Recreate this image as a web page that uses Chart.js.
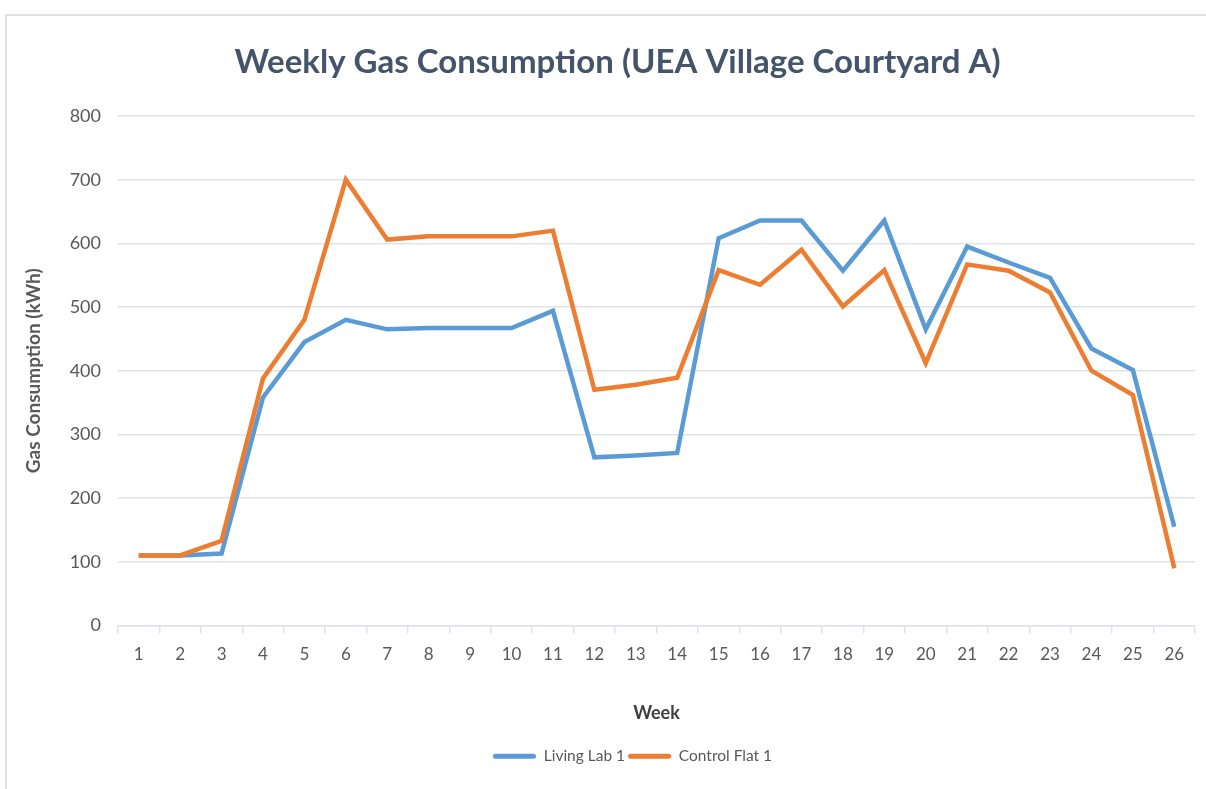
<!DOCTYPE html>
<html>
<head>
<meta charset="utf-8">
<script src="https://cdn.jsdelivr.net/npm/chart.js@4/dist/chart.umd.min.js"></script>
<style>
  html, body { margin: 0; padding: 0; background: #ffffff; }
  #frame { position: absolute; left: 5px; top: 14px; width: 1201px; height: 775px;
           border-top: 2px solid #dde1e6; border-left: 2px solid #dde1e6; box-sizing: border-box; }
  #box-chart { position: absolute; left: 0; top: 0; width: 1206px; height: 789px; }
</style>
</head>
<body>
<div id="frame"></div>
<div id="box-chart"><canvas id="LineChart1"></canvas></div>
<script>
// weeks 1..26
var semanas = ['1','2','3','4','5','6','7','8','9','10','11','12','13','14','15','16','17','18','19','20','21','22','23','24','25','26'];

// Living Lab 1 (kWh)
var livingLab = [110, 110, 113, 358, 445, 480, 465, 467, 467, 467, 494, 264, 267, 271, 608, 636, 636, 557, 636, 465, 595, 570, 546, 435, 401, 155];

// Control Flat 1 (kWh)
var controlFlat = [110, 110, 133, 388, 480, 700, 606, 611, 611, 611, 620, 370, 378, 389, 558, 535, 590, 501, 558, 412, 567, 557, 523, 400, 362, 90];

var yTicks = [0, 100, 200, 300, 400, 500, 600, 700, 800];

var corTexto = '#595959';
var corGrade = '#dfe3e8';

// legenda um pouco para a direita, como no original
var moverLegenda = {
    id: 'moverLegenda',
    afterLayout: function (chart) {
        chart.legend.left += 30;
    }
};

function showLineChart(canvasName) {
    var ctx = document.getElementById(canvasName).getContext('2d');
    return new Chart(ctx, {
        type: 'line',
        data: {
            labels: semanas,
            datasets: [{
                label: 'Living Lab 1',
                data: livingLab,
                borderColor: '#5b9bd5',
                backgroundColor: '#5b9bd5',
                borderWidth: 4.5,
                pointRadius: 0,
                tension: 0,
                order: 1
            }, {
                label: 'Control Flat 1',
                data: controlFlat,
                borderColor: '#ed7d31',
                backgroundColor: '#ed7d31',
                borderWidth: 4.5,
                pointRadius: 0,
                tension: 0,
                order: 0
            }]
        },
        plugins: [moverLegenda],
        options: {
            responsive: false,
            animation: false,
            layout: { padding: { left: 40, right: 11, top: 0, bottom: 15 } },
            plugins: {
                title: {
                    display: true,
                    text: 'Weekly Gas Consumption (UEA Village Courtyard A)',
                    color: '#44546a',
                    font: { family: 'Lato', size: 33, weight: 'bold' },
                    padding: { top: 42.2, bottom: 34.2 }
                },
                legend: {
                    position: 'bottom',
                    labels: {
                        color: corTexto,
                        font: { family: 'Lato', size: 15.5 },
                        boxWidth: 43,
                        boxHeight: 5,
                        padding: 3,
                        sort: function (a, b) { return a.datasetIndex - b.datasetIndex; },
                        generateLabels: function (chart) {
                            var itens = Chart.defaults.plugins.legend.labels.generateLabels(chart);
                            itens.forEach(function (it) {
                                it.lineWidth = 0;
                                it.fillStyle = it.strokeStyle;
                                it.borderRadius = 2.5;
                            });
                            return itens;
                        }
                    }
                },
                tooltip: { enabled: false }
            },
            scales: {
                x: {
                    offset: true,
                    grid: { drawOnChartArea: false, offset: true, tickLength: 8, color: corGrade, lineWidth: 1.5 },
                    border: { color: corGrade, width: 1.5 },
                    ticks: { color: corTexto, font: { family: 'Lato', size: 17 }, padding: 11, maxRotation: 0, autoSkip: false },
                    title: {
                        display: true,
                        text: 'Week',
                        color: '#404040',
                        font: { family: 'Lato', size: 18, weight: 'bold' },
                        padding: { top: 0, bottom: 22 }
                    },
                    afterFit: function (scale) { scale.height = 120; }
                },
                y: {
                    min: 0,
                    max: 800,
                    afterBuildTicks: function (scale) {
                        scale.ticks = yTicks.map(function (v) { return { value: v }; });
                    },
                    grid: { color: corGrade, lineWidth: 1.5, drawTicks: false },
                    border: { display: false },
                    ticks: { color: corTexto, font: { family: 'Lato', size: 18 }, padding: 17 },
                    title: {
                        display: true,
                        text: 'Gas Consumption (kWh)',
                        color: corTexto,
                        font: { family: 'Lato', size: 19, weight: 'bold' },
                        padding: { top: -17.4, bottom: 0 }
                    },
                    afterFit: function (scale) { scale.width = 78; }
                }
            }
        }
    });
}

var c = document.getElementById('LineChart1');
c.width = 1206;
c.height = 789;
showLineChart('LineChart1');
</script>
</body>
</html>
